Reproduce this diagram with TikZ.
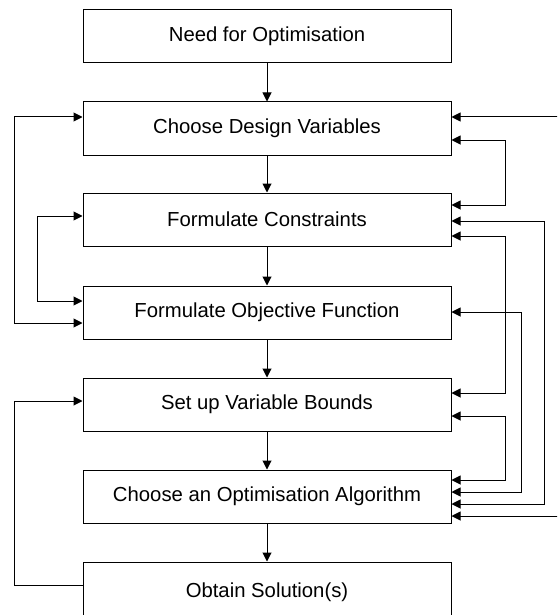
\documentclass[tikz,border=0pt]{standalone}
\usepackage{fontspec}
\setmainfont{Liberation Sans}
\usetikzlibrary{arrows.meta}
\begin{document}
\begin{tikzpicture}[x=1pt,y=-1pt,
  stage/.style={draw=black,line width=1pt,minimum width=368pt,minimum height=53pt,
    inner sep=0pt,font=\fontsize{20.3}{24}\selectfont,fill=white},
  link/.style={line width=1pt,draw=black},
  >={Triangle[length=9pt,width=9pt]}]
  \useasboundingbox (0,0) rectangle (557,615);
  \clip (0,0) rectangle (557,615);

  % process stages
  \node[stage] (b1) at (267,36.5)  {Need for Optimisation};
  \node[stage] (b2) at (267,128.5) {Choose Design Variables};
  \node[stage] (b3) at (267,219.5) {Formulate Constraints};
  \node[stage] (b4) at (267,312.5) {Formulate Objective Function};
  \node[stage] (b5) at (267,404.5) {Set up Variable Bounds};
  \node[stage] (b6) at (267,496.5) {Choose an Optimisation Algorithm};
  \node[stage,minimum height=60pt] (b7) at (267,592) {Obtain Solution(s)};

  % main flow
  \foreach \a/\b in {b1/b2,b2/b3,b3/b4,b4/b5,b5/b6,b6/b7}
    \draw[link,->] (\a.south) -- (\b.north);

  % feedback loops on the left
  \draw[link,<->] (b4.west |- 0,323) -| (14,117) -- (b2.west |- 0,117);
  \draw[link,<->] (b4.west |- 0,301) -| (37,216) -- (b3.west |- 0,216);
  \draw[link,->]  (b7.west |- 0,585) -| (14,401) -- (b5.west |- 0,401);

  % feedback loops on the right
  \coordinate (inA) at (570,117);
  \coordinate (inB) at (570,516);
  \draw[link,->] (inA) -- (b2.east |- 0,117);
  \draw[link,<->] (b2.east |- 0,140) -| (505,205) -- (b3.east |- 0,205);
  \draw[link,<->] (b3.east |- 0,221) -| (544,504) -- (b6.east |- 0,504);
  \draw[link,<->] (b3.east |- 0,236) -| (505,393) -- (b5.east |- 0,393);
  \draw[link,<->] (b4.east |- 0,312) -| (521,492) -- (b6.east |- 0,492);
  \draw[link,<->] (b5.east |- 0,416) -| (505,480) -- (b6.east |- 0,480);
  \draw[link,->] (inB) -- (b6.east |- 0,516);
\end{tikzpicture}
\end{document}
